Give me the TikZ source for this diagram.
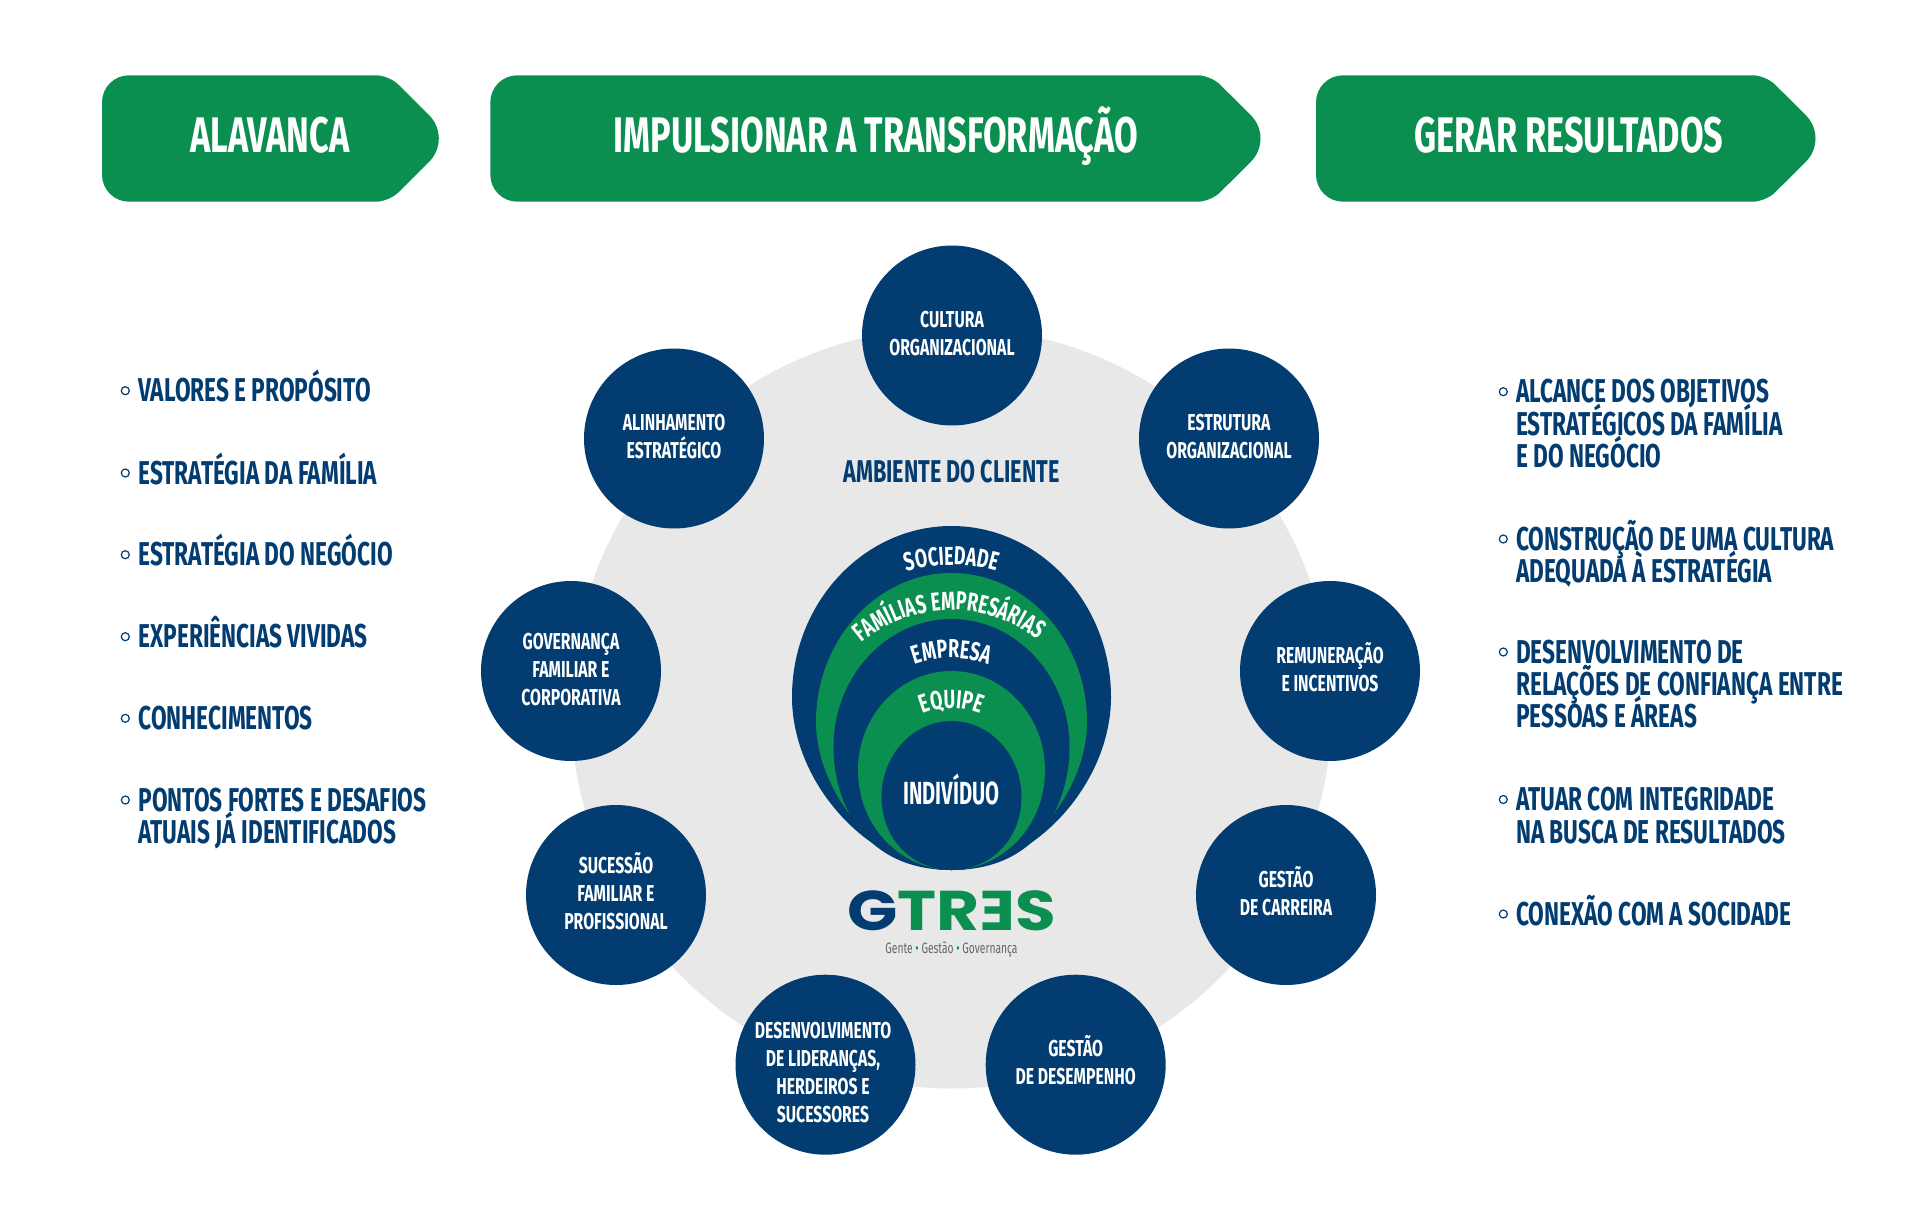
\documentclass[tikz,border=0pt]{standalone}
\usepackage{fontspec}
\setmainfont[FakeStretch=0.686]{Fira Sans}
\newfontfamily\logofont[FakeStretch=1.18]{Poppins}
\usetikzlibrary{decorations.text}
\definecolor{gtgreen}{RGB}{11,143,80}
\definecolor{gtblue}{RGB}{2,60,112}
\definecolor{gtgray}{RGB}{232,232,232}
\normallineskiplimit=-60pt
\lineskiplimit=-60pt
\AtBeginDocument{\bfseries}
\tikzset{
x=1pt, y=-1pt,
headlabel/.style={anchor=base, text=white, font=\fontsize{50}{50}\selectfont},
topiclabel/.style={text=white, align=center, font=\fontsize{23}{28}\selectfont},
topic/.style={circle, fill=gtblue, topiclabel, minimum size=180pt, inner sep=0pt},
item/.style={anchor=north west, inner sep=0pt, text=gtblue, align=left, font=\fontsize{33}{32.3}\selectfont},
dot/.style={circle, draw=gtblue, line width=1.2pt, fill=white, minimum size=8pt, inner sep=0pt},
}
\newcommand{\curvefont}{\fontsize{26}{26}\selectfont\color{white}}
\newcommand{\topicstrut}{\rule[-13.5pt]{0pt}{39.5pt}}
% left edge, shoulder
\newcommand{\headshape}[2]{
  \fill[gtgreen] [rounded corners=27pt] (#1,138) -- (#1,75.3) [rounded corners=13pt] -- (#2,75.3) [rounded corners=33pt] -- (#2+63.5,138.5)
    [rounded corners=13pt] -- (#2,201.7) [rounded corners=27pt] -- (#1,201.7) -- cycle;
}
% colour, top, half width, widest y, control y, control x offset
\newcommand{\bulbshape}[6]{
  \fill[#1] (951.5-#3,#4) .. controls (951.5-#3,{#4-.55*(#4-#2)}) and (951.5-.55*#3,#2) .. (951.5,#2)
    .. controls (951.5+.55*#3,#2) and (951.5+#3,{#4-.55*(#4-#2)}) .. (951.5+#3,#4)
    .. controls (951.5+#3,#5) and (951.5+#6,870) .. (951.5,870)
    .. controls (951.5-#6,870) and (951.5-#3,#5) .. cycle;
}
% centre y, radius, start angle, end angle, text
\newcommand{\curvelabel}[5]{
  \path[decorate, decoration={text along path, text align=center, text={|\curvefont|#5}}]
    (951.5,#1) ++(#3:#2pt) arc[start angle=#3, end angle=#4, radius=#2pt];
}

\begin{document}
\begin{tikzpicture}
    \useasboundingbox (0,0) rectangle (1920,1218);
    % top arrows
    \headshape{102}{389}
    \headshape{490.3}{1210.7}
    \headshape{1316}{1765.7}
    \node[headlabel] (alavanca) at (270,152) {ALAVANCA};
    \node[headlabel] (impulsionar) at (876,152) {IMPULSIONAR A TRANSFORMAÇÃO};
    \node[headlabel] (gerar) at (1569,152) {GERAR RESULTADOS};

    % client environment
    \fill[gtgray] (951.5,708) circle (380.5pt);
    \node[text=gtblue, font=\fontsize{31.5}{31.5}\selectfont] (ambiente) at (951.5,472) {AMBIENTE DO CLIENTE};

    % nested shapes
    \bulbshape{gtblue}{526}{159.5}{697}{785}{80}
    \bulbshape{gtgreen}{573}{135.5}{722}{790}{75}
    \bulbshape{gtblue}{619}{118}{747}{800}{90}
    \bulbshape{gtgreen}{671}{93.5}{770}{830}{47}
    \bulbshape{gtblue}{721}{70}{797}{840}{38}
    \curvelabel{725}{160}{108}{72}{SOCIEDADE}
    \curvelabel{748}{138}{133}{49}{FAMÍLIAS EMPRESÁRIAS}
    \curvelabel{768}{110}{118}{62}{EMPRESA}
    \curvelabel{783}{75}{125}{55}{EQUIPE}
    \node[anchor=base, text=white, xscale=.92, font=\fontsize{32}{32}\selectfont] (individuo) at (951.5,804) {INDIVÍDUO};

    % logo
    \node[anchor=base, font=\logofont\bfseries\fontsize{56}{56}\selectfont] (logo) at (951.5,930) {\textcolor{gtblue}{G}\textcolor{gtgreen}{TR\reflectbox{E}S}};
    \node[text=black!60, font=\mdseries\fontsize{15}{15}\selectfont] (slogan) at (951.5,949) {Gente \textcolor{gtgreen}{•} Gestão \textcolor{gtgreen}{•} Governança};

    % topics round the circle
    \node[topic] (cultura) at (952,335.5) {\topicstrut CULTURA\\ORGANIZACIONAL\topicstrut};
    \node[topic] (estrutura) at (1229,438.5) {\topicstrut ESTRUTURA\\ORGANIZACIONAL\topicstrut};
    \node[topic] (remuneracao) at (1330,671) {\topicstrut REMUNERAÇÃO\\E INCENTIVOS\topicstrut};
    \node[topic] (carreira) at (1286,895) {\topicstrut GESTÃO\\DE CARREIRA\topicstrut};
    \node[topic] (desempenho) at (1075.7,1064.7) {\topicstrut GESTÃO\\DE DESEMPENHO\topicstrut};
    \node[circle, fill=gtblue, minimum size=180pt, inner sep=0pt, label={[topiclabel, xshift=-2.5pt, yshift=-7.5pt]center:DESENVOLVIMENTO\\DE LIDERANÇAS,\\HERDEIROS E\\SUCESSORES}] (liderancas) at (825.5,1064.7) {};
    \node[topic] (sucessao) at (616,895) {\topicstrut SUCESSÃO\\FAMILIAR E\\PROFISSIONAL\topicstrut};
    \node[topic] (governanca) at (571,671) {\topicstrut GOVERNANÇA\\FAMILIAR E\\CORPORATIVA\topicstrut};
    \node[topic] (alinhamento) at (674,438.5) {\topicstrut ALINHAMENTO\\ESTRATÉGICO\topicstrut};

    % left list
    \foreach \name/\ypos/\txt in {valores/369.7/{VALORES E PROPÓSITO},
        familia/452/{ESTRATÉGIA DA FAMÍLIA},
        negocio/533.7/{ESTRATÉGIA DO NEGÓCIO},
        vividas/615.7/{EXPERIÊNCIAS VIVIDAS},
        saber/697.3/{CONHECIMENTOS},
        pontos/779/{PONTOS FORTES E DESAFIOS\\ATUAIS JÁ IDENTIFICADOS}} {
      \node[item] (\name) at (138.3,\ypos) {\rule{0pt}{32pt}\txt};
      \node[dot] (\name dot) at (125.3,\ypos+21) {};
    }
    % right list
    \foreach \name/\ypos/\txt in {objetivos/370.7/{ALCANCE DOS OBJETIVOS\\ESTRATÉGICOS DA FAMÍLIA\\E DO NEGÓCIO},
        construcao/518/{CONSTRUÇÃO DE UMA CULTURA\\ADEQUADA À ESTRATÉGIA},
        relacoes/631/{DESENVOLVIMENTO DE\\RELAÇÕES DE CONFIANÇA ENTRE\\PESSOAS E ÁREAS},
        integridade/778.5/{ATUAR COM INTEGRIDADE\\NA BUSCA DE RESULTADOS},
        conexao/893/{CONEXÃO COM A SOCIDADE}} {
      \node[item] (\name) at (1516,\ypos) {\rule{0pt}{32pt}\txt};
      \node[dot] (\name dot) at (1503.3,\ypos+21) {};
    }
  \end{tikzpicture}
\end{document}
